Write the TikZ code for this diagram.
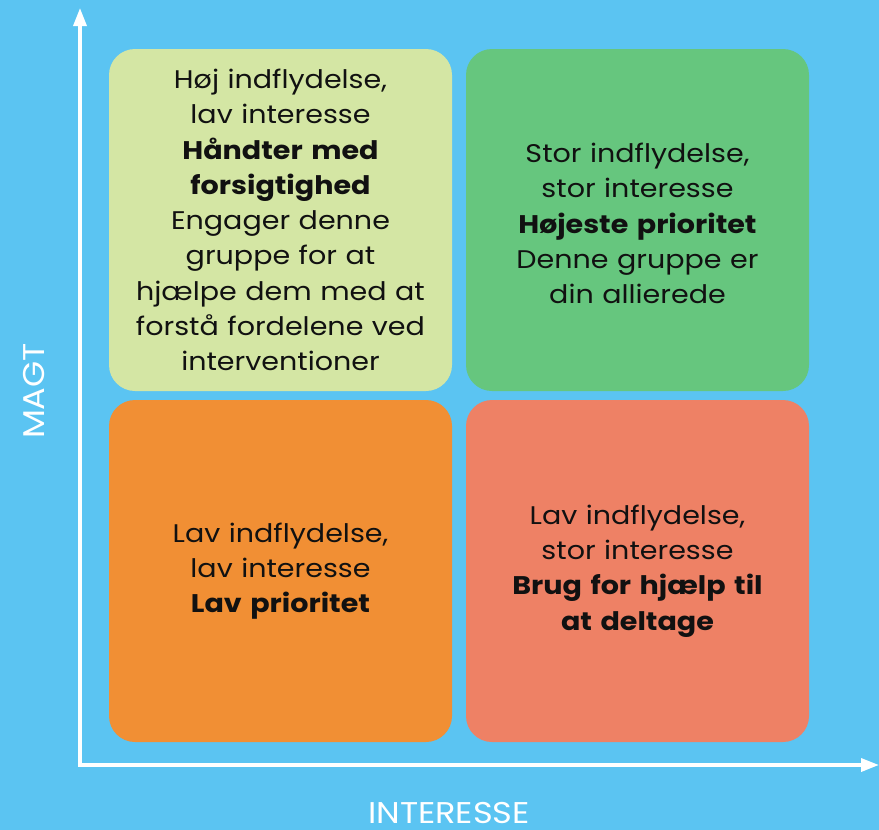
\documentclass[tikz,border=0pt]{standalone}
\usepackage{fontspec}
\setmainfont{Poppins}[FakeStretch=1.12]
\usetikzlibrary{arrows.meta}
\definecolor{bgblue}{HTML}{5BC4F2}
\definecolor{tlcol}{HTML}{D4E6A4}
\definecolor{trcol}{HTML}{66C67E}
\definecolor{blcol}{HTML}{F18F34}
\definecolor{brcol}{HTML}{EE8165}
\definecolor{txt}{HTML}{111111}
\begin{document}
\begin{tikzpicture}[x=1pt,y=-1pt,
  quad/.style={rounded corners=26pt, minimum width=343pt, minimum height=342pt, inner sep=0pt},
  qtext/.style={inner sep=0pt, text width=338pt, align=center, text=txt,
    font=\fontsize{25.5}{35.3}\selectfont},
  axis/.style={draw=white, line width=3.5pt, -{Triangle[length=18pt,width=13pt]}},
  axlabel/.style={text=white, font=\fontsize{30}{36}\selectfont, inner sep=0pt}]
\useasboundingbox (0,0) rectangle (879,830);
\fill[bgblue] (0,0) rectangle (879,830);
\node[quad, fill=tlcol] (tl) at (280.5,220) {};
\node[quad, fill=trcol] (tr) at (637.5,220) {};
\node[quad, fill=blcol] (bl) at (280.5,571) {};
\node[quad, fill=brcol] (br) at (637.5,571) {};
\node[qtext] (tltext) at (tl.center) {H\o j indflydelse,\\lav interesse\\\textbf{H\aa ndter med}\\\textbf{forsigtighed}\\Engager denne\\gruppe for at\\hj\ae lpe dem med at\\forst\aa{} fordelene ved\\interventioner};
\node[qtext] (trtext) at ([yshift=-3.5pt]tr.center) {Stor indflydelse,\\stor interesse\\\textbf{H\o jeste prioritet}\\Denne gruppe er\\din allierede};
\node[qtext] (bltext) at (bl.center) {Lav indflydelse,\\lav interesse\\\textbf{Lav prioritet}};
\node[qtext] (brtext) at (br.center) {Lav indflydelse,\\stor interesse\\\textbf{Brug for hj\ae lp til}\\\textbf{at deltage}};
\coordinate (o) at (80,765);
\coordinate (ytop) at (80,8);
\coordinate (xend) at (879,765);
\draw[axis] ([yshift=1.75pt]o) -- (ytop);
\draw[axis] ([xshift=-1.75pt]o) -- (xend);
\node[axlabel, rotate=90] (magt) at (34,391) {MAGT};
\node[axlabel] (interesse) at (449,813) {INTERESSE};
\end{tikzpicture}
\end{document}
